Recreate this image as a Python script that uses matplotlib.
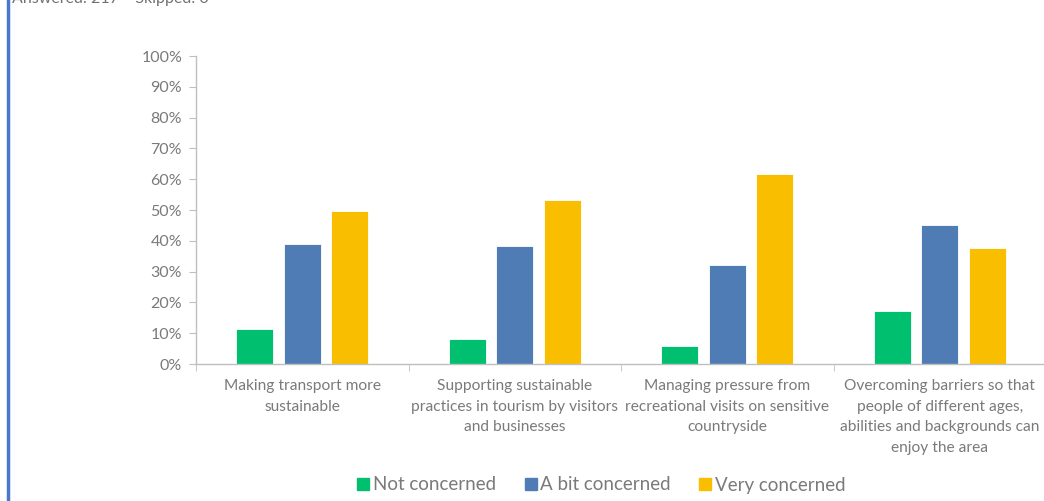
import numpy as np
import matplotlib.pyplot as plt

categories = [
    "Making transport more\nsustainable",
    "Supporting sustainable\npractices in tourism by visitors\nand businesses",
    "Managing pressure from\nrecreational visits on sensitive\ncountryside",
    "Overcoming barriers so that\npeople of different ages,\nabilities and backgrounds can\nenjoy the area",
]
series_names = ["Not concerned", "A bit concerned", "Very concerned"]
not_concerned = [11.5, 8.1, 5.9, 17.2]
bit_concerned = [38.9, 38.3, 32.1, 45.2]
very_concerned = [49.6, 53.2, 61.8, 37.7]
colors = ["#00BF6F", "#507CB6", "#F9BE00"]

plt.rcParams['font.family'] = ['Lato', 'DejaVu Sans']
text_grey = '#7a7a7a'

W, H = 1044, 501
fig = plt.figure(figsize=(W / 100, H / 100), dpi=100)

# plot area in pixels: x from 196, y zero at 364, 100% at 56
ax = fig.add_axes([196 / W, (H - 364) / H, 850 / W, 308 / H])

x = np.arange(len(categories))
width = 0.174
step = 0.224
for i, (vals, name) in enumerate(zip([not_concerned, bit_concerned, very_concerned], series_names)):
    ax.bar(x + (i - 1) * step, vals, width, color=colors[i], label=name,
           edgecolor='white', linewidth=0.6)

ax.set_xlim(-0.5, len(categories) - 0.5)
ax.set_ylim(0, 100)
ax.set_yticks(range(0, 101, 10))
ax.set_yticklabels([f"{v}%" for v in range(0, 101, 10)])

ax.set_xticks(x)
ax.set_xticklabels(categories)
for lbl in ax.get_xticklabels():
    lbl.set_linespacing(1.6)
ax.set_xticks(np.arange(-0.5, len(categories), 1), minor=True)
ax.tick_params(axis='x', which='major', length=0, pad=11, labelsize=11.2, labelcolor=text_grey)
ax.tick_params(axis='x', which='minor', length=5, color='#bfbfbf', direction='out')
ax.tick_params(axis='y', length=5, color='#bfbfbf', labelsize=11.5, labelcolor=text_grey, pad=5)

for s in ['top', 'right']:
    ax.spines[s].set_visible(False)
for s in ['left', 'bottom']:
    ax.spines[s].set_color('#bfbfbf')
    ax.spines[s].set_linewidth(1)

handles = [plt.Line2D([], [], marker='s', linestyle='', color=c, markersize=8) for c in colors]
fig.legend(handles, series_names, loc='center', bbox_to_anchor=(601 / W, 1 - 485 / H),
           ncol=3, frameon=False, fontsize=13.5, labelcolor=text_grey,
           handletextpad=0.15, columnspacing=1.5, handlelength=0.7)

# header strip: blue left rule and clipped response count
fig.add_artist(plt.Line2D([8 / W, 8 / W], [0, 1], color='#4A78C8', linewidth=2.5,
                          transform=fig.transFigure))
fig.text(12 / W, 1 + 1 / H, "Answered: 217    Skipped: 0", fontsize=11.5,
         color='#707070', ha='left', va='center')

fig.savefig('out.png', dpi=100)
